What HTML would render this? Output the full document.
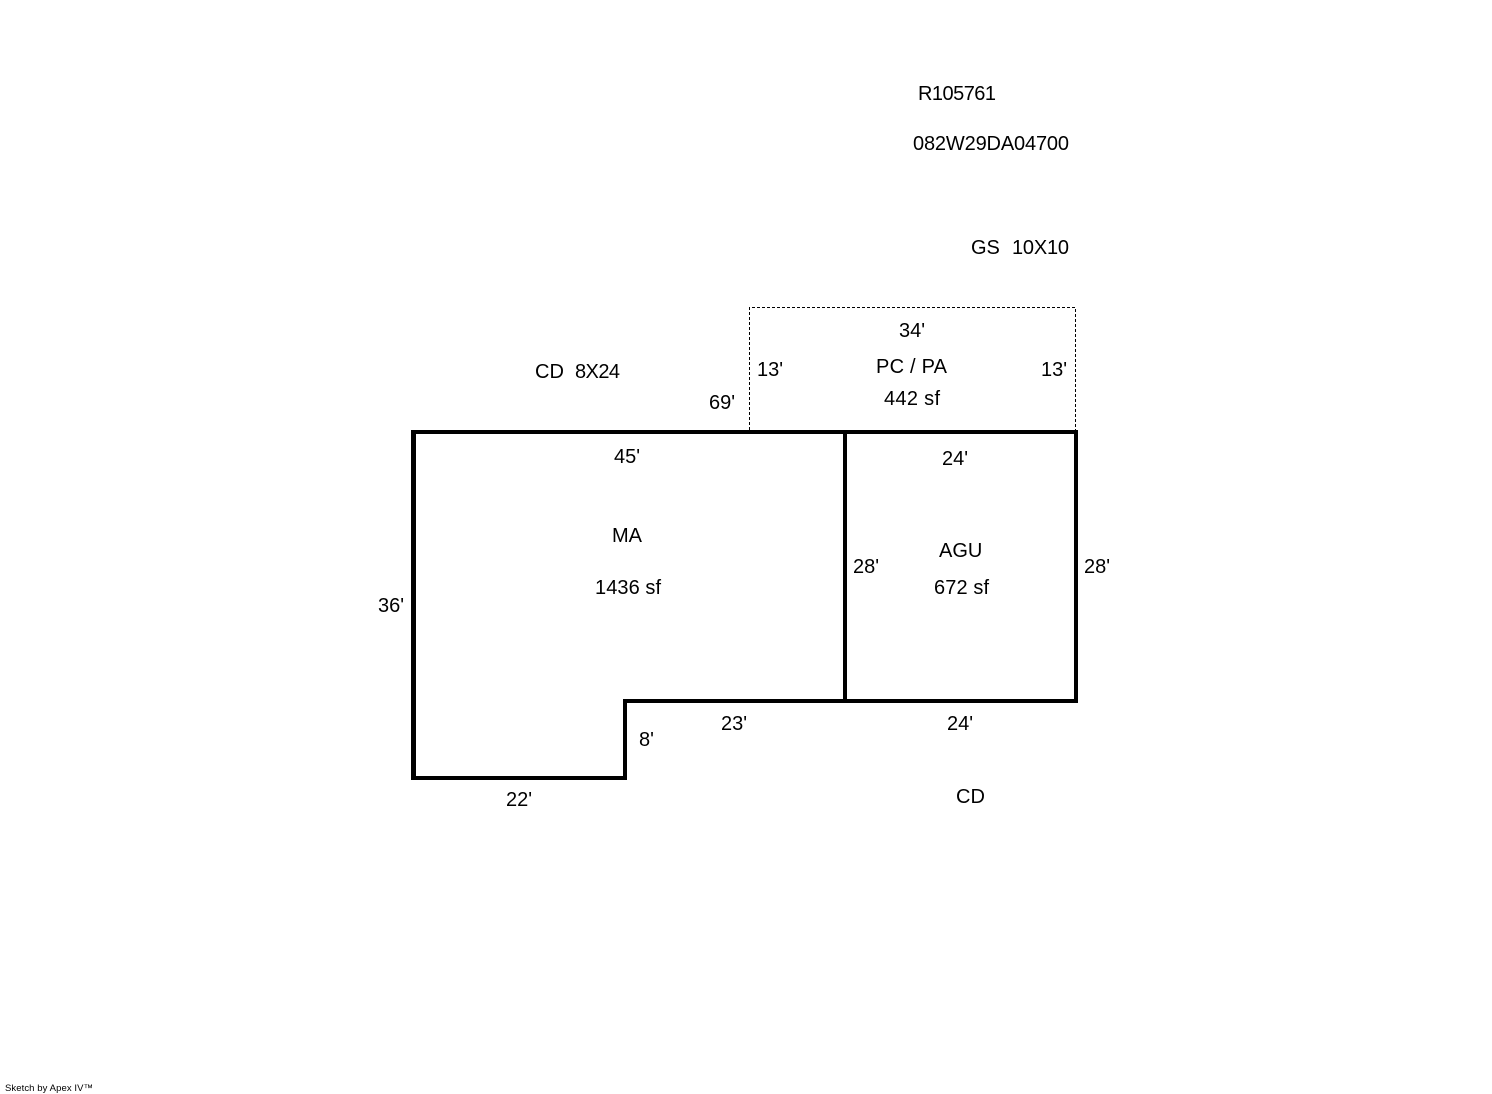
<!DOCTYPE html>
<html>
<head>
<meta charset="utf-8">
<style>
html,body{margin:0;padding:0;background:#fff;width:1492px;height:1094px;overflow:hidden}
svg{display:block}
text{font-family:"Liberation Sans",Arial,sans-serif;font-size:20px;fill:#000}
</style>
</head>
<body>
<svg width="1492" height="1094" viewBox="0 0 1492 1094" xmlns="http://www.w3.org/2000/svg">
<rect width="1492" height="1094" fill="#fff"/>
<g fill="none" stroke="#000" stroke-width="1" stroke-dasharray="3 2" shape-rendering="crispEdges">
<path d="M749.5 430V307.5H1075.5V430"/>
</g>
<g fill="#000" shape-rendering="crispEdges">
<rect x="411" y="430" width="667" height="4"/>
<rect x="411" y="430" width="5" height="350"/>
<rect x="411" y="776" width="216" height="4"/>
<rect x="623" y="699" width="4" height="81"/>
<rect x="623" y="699" width="455" height="4"/>
<rect x="843" y="430" width="4" height="273"/>
<rect x="1074" y="430" width="4" height="273"/>
</g>
<text x="918" y="100" textLength="78">R105761</text>
<text x="913" y="150" textLength="156">082W29DA04700</text>
<text x="971" y="254">GS</text>
<text x="1012" y="254" textLength="57">10X10</text>
<text x="899" y="337">34'</text>
<text x="876" y="373" textLength="71">PC / PA</text>
<text x="884" y="405" textLength="56">442 sf</text>
<text x="757" y="376">13'</text>
<text x="1041" y="376">13'</text>
<text x="535" y="378">CD</text>
<text x="575" y="378" textLength="45">8X24</text>
<text x="709" y="409">69'</text>
<text x="614" y="463">45'</text>
<text x="942" y="465">24'</text>
<text x="612" y="542">MA</text>
<text x="939" y="557">AGU</text>
<text x="595" y="594" textLength="66">1436 sf</text>
<text x="934" y="594" textLength="55">672 sf</text>
<text x="853" y="573">28'</text>
<text x="1084" y="573">28'</text>
<text x="378" y="612">36'</text>
<text x="639" y="746">8'</text>
<text x="721" y="730">23'</text>
<text x="947" y="730">24'</text>
<text x="506" y="806">22'</text>
<text x="956" y="803">CD</text>
<text x="5" y="1091" textLength="88" style="font-size:9.5px">Sketch by Apex IV™</text>
</svg>
</body>
</html>
